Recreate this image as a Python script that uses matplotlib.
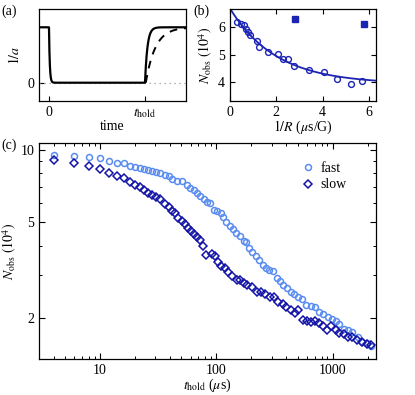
import numpy as np
import matplotlib
matplotlib.use("Agg")
import matplotlib.pyplot as plt
from matplotlib.ticker import LogLocator, FixedLocator, NullFormatter, FixedFormatter

plt.rcParams['font.family'] = ['Liberation Serif', 'DejaVu Serif']
plt.rcParams['mathtext.fontset'] = 'stix'
plt.rcParams['font.size'] = 10

# ---------------- data ----------------
# panel (a) schematic: 1/a vs time (t_hold = 1)
a_time_start = -0.104
a_time_end = 1.427
a_t_hold = 1.0
a_fall_tau = 0.008
a_fast_tau = 0.025
a_slow_tau = 0.10
a_slow_delay = 0.008

# panel (b)
b_invR = [0.31, 0.46, 0.62, 0.68, 0.76, 0.85, 1.18, 1.26, 1.65, 2.06, 2.30, 2.51,
          2.76, 3.41, 4.05, 4.60, 5.22, 5.70]
b_N = [6.20, 6.11, 6.07, 5.93, 5.84, 5.72, 5.51, 5.30, 5.10, 5.03, 4.86, 4.85,
       4.60, 4.47, 4.38, 4.12, 3.96, 4.06]
b_sq_invR = [2.82, 5.78]
b_sq_N = [6.30, 6.12]
b_fit_c, b_fit_A, b_fit_tau = 3.95, 2.73, 2.0

# panel (c)
fast_t = [4, 6, 8, 10, 12, 14, 16, 18, 20, 22, 24, 26, 28, 30.5, 33, 36, 39, 42, 46,
          51, 55.5, 59, 64, 68, 73, 78, 83, 89, 95.5, 102, 109, 115, 122, 130, 139,
          148, 160, 172, 181, 190, 203, 218, 233, 254, 265, 283, 308, 330, 352, 377,
          402, 436, 466, 505, 540, 594, 645, 700, 760, 825, 905, 985, 1065, 1140,
          1240, 1340, 1470, 1640, 1780, 1950, 2110]
fast_N = [9.55, 9.40, 9.32, 9.23, 9.02, 8.87, 8.79, 8.59, 8.50, 8.44, 8.33, 8.25,
          8.15, 8.08, 8.00, 7.88, 7.82, 7.55, 7.40, 7.45, 7.15, 6.97, 6.81, 6.63,
          6.42, 6.28, 6.10, 6.03, 5.64, 5.56, 5.45, 5.26, 5.03, 4.83, 4.70, 4.52,
          4.37, 4.19, 4.12, 3.92, 3.76, 3.62, 3.48, 3.32, 3.22, 3.17, 3.12, 2.92,
          2.84, 2.74, 2.67, 2.57, 2.51, 2.44, 2.40, 2.25, 2.23, 2.22, 2.12, 2.07,
          2.02, 1.97, 1.93, 1.88, 1.79, 1.77, 1.74, 1.66, 1.59, 1.57, 1.53]

slow_t = [4, 6, 8, 10, 12, 14, 16, 18, 20, 22, 24, 26, 28, 30.5, 33, 36, 39, 41.5,
          44.5, 47, 50.5, 53.5, 57, 60, 64, 68, 72, 77, 82, 91, 97, 103, 110, 118,
          127, 137, 149, 160, 172, 185, 203, 222, 243, 264, 287, 310, 340, 370, 396,
          434, 472, 504, 550, 600, 650, 700, 760, 822, 890, 970, 1065, 1140, 1240,
          1340, 1470, 1610, 1780, 1950, 2110]
slow_N = [9.08, 8.80, 8.58, 8.32, 8.05, 7.82, 7.62, 7.39, 7.17, 7.04, 6.79, 6.62,
          6.50, 6.40, 6.24, 5.95, 5.78, 5.56, 5.44, 5.22, 5.05, 4.90, 4.74, 4.58,
          4.45, 4.33, 4.22, 3.98, 3.64, 3.70, 3.60, 3.43, 3.29, 3.22, 3.11, 2.99,
          2.88, 2.87, 2.79, 2.75, 2.68, 2.57, 2.55, 2.51, 2.45, 2.43, 2.33, 2.29,
          2.22, 2.16, 2.10, 2.16, 1.95, 1.93, 1.92, 1.93, 1.90, 1.84, 1.78, 1.84,
          1.78, 1.72, 1.71, 1.67, 1.66, 1.62, 1.58, 1.56, 1.54]

c_yticks = [2, 5, 10]
c_xticks = [10, 100, 1000]

# ---------------- figure ----------------
W, H = 415, 395
fig = plt.figure(figsize=(W / 100, H / 100), dpi=100)

def ax_px(l, t, r, b):
    return fig.add_axes([l / W, 1 - b / H, (r - l) / W, (b - t) / H])

col_fast = '#5a8cf0'
col_slow = '#1414a6'
col_b = '#1c24b4'

tick_kw = dict(direction='in', length=3.5, width=0.8)

# ---- (a)
axa = ax_px(39, 9, 186, 101)
t = np.linspace(a_time_start, a_time_end, 2000)
solid = np.where(t < 0, 1.0, np.exp(-np.clip(t, 0, None) / a_fall_tau))
solid = np.where(t >= a_t_hold, 1 - np.exp(-(t - a_t_hold) / a_fast_tau), solid)
ts = a_t_hold + a_slow_delay
dashed_t = t[t >= ts]
dashed = 1 - np.exp(-(dashed_t - ts) / a_slow_tau)
axa.plot([a_time_start, a_time_end], [0, 0], ls=(0, (1, 3)), color='#999999', lw=0.9)
axa.plot(dashed_t, dashed, color='black', lw=1.4, ls=(0, (4, 3.5)))
axa.plot(t, solid, color='black', lw=1.6)
axa.set_xlim(a_time_start, a_time_end)
axa.set_ylim(-0.33, 1.33)
axa.set_xticks([0, a_t_hold])
axa.set_xticklabels(['0', r'$t_{\rm hold}$'])
axa.set_yticks([0])
axa.set_yticklabels(['0'])
axa.tick_params(**tick_kw)
axa.set_xlabel('time', labelpad=0)
axa.set_ylabel(r'$1/a$', labelpad=4)
fig.text(1 / W, 1 - 15 / H, '(a)', fontsize=10)

# ---- (b)
axb = ax_px(230, 9, 376, 101)
xf = np.linspace(0, 6.3, 300)
axb.plot(xf, b_fit_c + b_fit_A * np.exp(-xf / b_fit_tau), color=col_b, lw=1.3)
axb.plot(b_invR, b_N, 'o', mfc='none', mec=col_b, mew=1.0, ms=4.2)
axb.plot(b_sq_invR, b_sq_N, 's', color=col_b, ms=4.0)
axb.set_xlim(0, 6.3)
axb.set_ylim(3.33, 6.66)
axb.set_xticks([0, 2, 4, 6])
axb.set_yticks([4, 5, 6])
axb.tick_params(top=True, right=True, **tick_kw)
axb.set_xlabel(r'$1/R$ ($\mu$s/G)', labelpad=0)
axb.set_ylabel(r'$N_{\rm obs}$ $(10^4)$', labelpad=2)
fig.text(193 / W, 1 - 15 / H, '(b)', fontsize=10)

# ---- (c)
axc = ax_px(39, 143, 376, 359)
axc.set_xscale('log')
axc.set_yscale('log')
axc.plot(fast_t, fast_N, 'o', mfc='none', mec=col_fast, mew=1.1, ms=4.3, label='fast')
axc.plot(slow_t, slow_N, 'D', mfc='none', mec=col_slow, mew=1.1, ms=3.6, label='slow')
axc.set_xlim(3.0, 2350)
axc.set_ylim(1.346, 10.7)
axc.yaxis.set_major_locator(FixedLocator(c_yticks))
axc.yaxis.set_major_formatter(FixedFormatter([str(v) for v in c_yticks]))
axc.yaxis.set_minor_locator(FixedLocator([3, 4, 6, 7, 8, 9]))
axc.yaxis.set_minor_formatter(NullFormatter())
axc.xaxis.set_major_locator(FixedLocator(c_xticks))
axc.xaxis.set_major_formatter(FixedFormatter([str(v) for v in c_xticks]))
axc.xaxis.set_minor_locator(LogLocator(base=10, subs=np.arange(2, 10), numticks=20))
axc.xaxis.set_minor_formatter(NullFormatter())
axc.tick_params(which='major', top=True, right=True, direction='in', length=4, width=0.8)
axc.tick_params(which='minor', top=True, right=True, direction='in', length=2.3, width=0.7)
axc.set_xlabel(r'$t_{\rm hold}$ ($\mu$s)', labelpad=0)
axc.set_ylabel(r'$N_{\rm obs}$ $(10^4)$', labelpad=1)
axc.legend(loc='upper left', bbox_to_anchor=(0.74, 0.97), frameon=False,
           handletextpad=0.4, handlelength=1.0, labelspacing=0.25, fontsize=10)
fig.text(1 / W, 1 - 149 / H, '(c)', fontsize=10)

for ax in (axa, axb, axc):
    for s in ax.spines.values():
        s.set_linewidth(0.9)

fig.savefig('out.png', dpi=100)
